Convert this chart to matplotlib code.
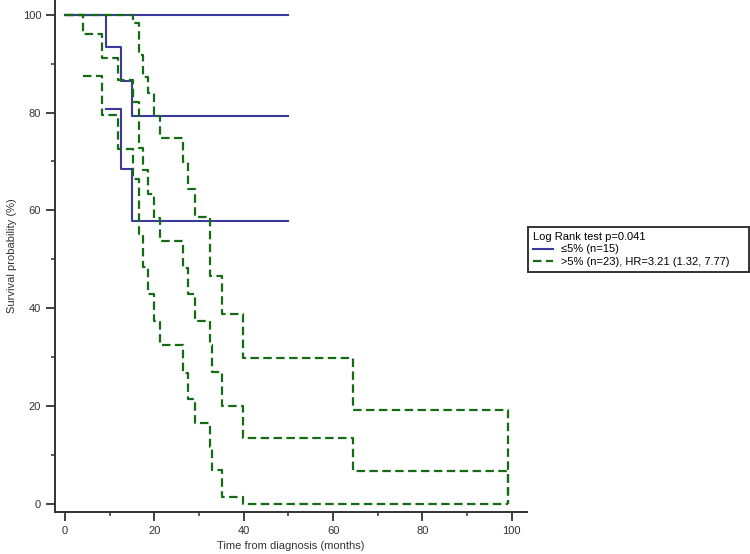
import matplotlib
matplotlib.use("Agg")
import matplotlib.pyplot as plt
from matplotlib.lines import Line2D
from matplotlib.ticker import MultipleLocator

plt.rcParams['font.family'] = ['Liberation Sans', 'DejaVu Sans']

# <=5% group (n=15): Kaplan-Meier estimate with 95% CI
low_t = [0, 9.17, 12.46, 15.06, 50]
low_km = [100, 93.3, 86.5, 79.2, 79.2]
low_ci_lo_t = [9.17, 12.46, 15.06, 50]
low_ci_lo = [80.8, 68.4, 57.9, 57.9]
low_ci_hi_t = [0, 50]
low_ci_hi = [100, 100]

# >5% group (n=23)
high_t = [0, 3.96, 8.21, 11.92, 15.28, 16.62, 17.55, 18.55, 19.85, 21.3,
          26.33, 27.6, 29.08, 32.4, 33.0, 35.15, 39.89, 64.5, 99.1]
high_km = [100, 96.0, 91.2, 86.7, 82.2, 72.7, 68.3, 63.4, 58.4, 53.8,
           48.2, 42.9, 37.5, 32.5, 27.0, 20.1, 13.4, 6.7, 0]
high_ci_lo_t = [3.96, 8.21, 11.92, 15.28, 16.62, 17.55, 18.55, 19.85, 21.3,
                26.33, 27.6, 29.08, 32.4, 33.0, 35.15, 39.89, 99.1]
high_ci_lo = [87.5, 79.6, 72.5, 66.4, 55.0, 48.5, 42.9, 37.5, 32.5,
              26.8, 21.5, 16.5, 11.7, 6.9, 1.5, 0, 0]
high_ci_hi_t = [0, 15.28, 16.62, 17.55, 18.55, 19.85, 21.3, 26.33, 27.6,
                29.08, 32.4, 35.15, 39.89, 64.5, 99.1]
high_ci_hi = [100, 98.2, 91.8, 87.3, 83.9, 79.2, 74.9, 69.8, 64.4,
              58.7, 46.5, 38.8, 29.9, 19.2, 0]

blue = '#3a3a9c'
green = '#136b13'
grey = '#333333'

fig = plt.figure(figsize=(7.5, 5.54), dpi=100)
ax = fig.add_axes([55 / 750, 1 - 512 / 554, 472 / 750, 512 / 554])

# blue curves first, dashed green on top
for t, s in [(low_ci_hi_t, low_ci_hi), (low_t, low_km), (low_ci_lo_t, low_ci_lo)]:
    ax.step(t, s, where='post', color=blue, lw=1.5)

for t, s in [(high_ci_hi_t, high_ci_hi), (high_t, high_km), (high_ci_lo_t, high_ci_lo)]:
    ax.step(t, s, where='post', color=green, lw=1.6, dashes=(3.8, 2.0))

ax.set_xlim(-2.24, 103.4)
ax.set_ylim(-1.63, 103.0)

ax.xaxis.set_minor_locator(MultipleLocator(10))
ax.yaxis.set_minor_locator(MultipleLocator(10))
ax.set_xticks([0, 20, 40, 60, 80, 100])
ax.set_yticks([0, 20, 40, 60, 80, 100])

for side in ['top', 'right']:
    ax.spines[side].set_visible(False)
for side in ['left', 'bottom']:
    ax.spines[side].set_color(grey)
    ax.spines[side].set_linewidth(1.4)

ax.tick_params(which='major', length=6.5, width=1.3, color=grey,
               labelsize=8, labelcolor=grey, pad=3.5)
ax.tick_params(which='minor', length=3.2, width=1.1, color=grey)

ax.set_xlabel('Time from diagnosis (months)', fontsize=8, color=grey, labelpad=4)
ax.set_ylabel('Survival probability (%)', fontsize=8, color=grey, labelpad=4)

handles = [Line2D([], [], color=blue, lw=1.5),
           Line2D([], [], color=green, lw=1.6, dashes=(3.8, 2.0))]
labels = ['\u22645% (n=15)', '>5% (n=23), HR=3.21 (1.32, 7.77)']
leg = fig.legend(handles, labels, title='Log Rank test p=0.041',
                 loc='upper left',
                 bbox_to_anchor=(528 / 750, 1 - 226.7 / 554, 221 / 750, 0),
                 mode='expand',
                 fontsize=8, title_fontsize=8, alignment='left',
                 frameon=True, fancybox=False, edgecolor='black',
                 handlelength=1.8, handletextpad=0.7, borderpad=0.45,
                 labelspacing=0.25, borderaxespad=0)
leg.get_frame().set_linewidth(1.4)

fig.savefig('out.png', dpi=100)
